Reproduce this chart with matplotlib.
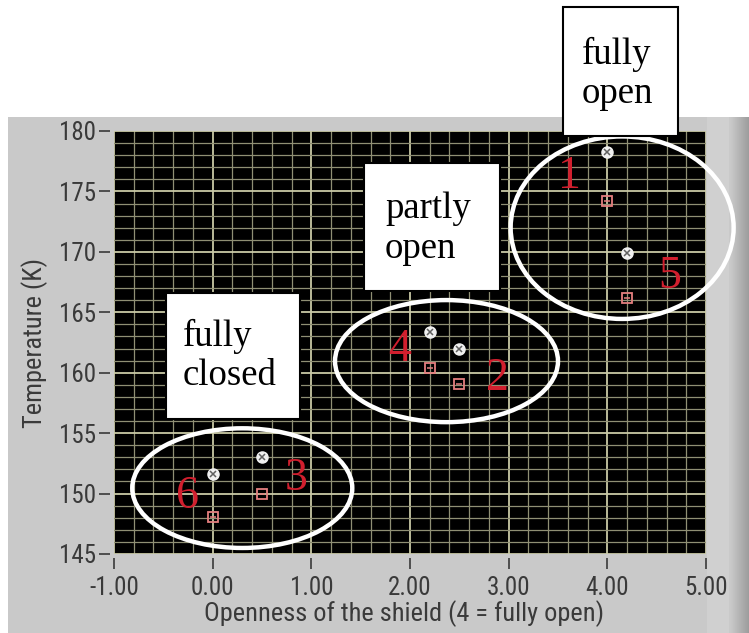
import numpy as np
import matplotlib
matplotlib.use("Agg")
import matplotlib.pyplot as plt
from matplotlib import font_manager
from matplotlib.patches import Ellipse, Rectangle
from matplotlib.ticker import MultipleLocator

# openness of the shield and the two temperature readings per run
openness = [4.0, 2.5, 0.5, 2.2, 4.2, 0.0]
temp_upper = [178.3, 162.0, 153.0, 163.4, 169.9, 151.6]
temp_lower = [174.2, 159.1, 150.0, 160.4, 166.2, 148.1]
run_ids = ["1", "2", "3", "4", "5", "6"]

x_ticks = [-1, 0, 1, 2, 3, 4, 5]
y_ticks = [145, 150, 155, 160, 165, 170, 175, 180]
group_names = ["fully\nclosed", "partly\nopen", "fully\nopen"]


def pick_font(names):
    have = {f.name for f in font_manager.fontManager.ttflist}
    for n in names:
        if n in have:
            return n
    return "DejaVu Sans"


ui_font = pick_font(["Liberation Sans Narrow", "Roboto Condensed", "Open Sans"])
serif_font = pick_font(["Liberation Serif", "DejaVu Serif"])
plt.rcParams["font.family"] = [ui_font, "DejaVu Sans"]

W, H = 749, 633
fig = plt.figure(figsize=(W / 100, H / 100), dpi=100)
fig.patch.set_facecolor("white")


def px(x, y):
    # pixel position (top-left origin) -> figure fraction
    return x / W, 1 - y / H


# grey panel behind the graph, with a soft shadow on the right
bg = fig.add_axes([0, 0, 1, 1], zorder=-5)
bg.set_xlim(0, W)
bg.set_ylim(H, 0)
bg.axis("off")
bg.add_patch(Rectangle((8, 117), 722, H - 117, color="#c9c9c9", lw=0))
bg.add_patch(Rectangle((707, 117), 22, H - 117, color="#d0d0d0", lw=0))
shade = np.linspace(0, 1, 40)[None, :]
bg.imshow(shade, extent=(729, 749, H, 117), aspect="auto",
          cmap=matplotlib.colors.LinearSegmentedColormap.from_list(
              "sh", ["#cdcdcd", "#9d9d9d"]), zorder=0)

ax = fig.add_axes([114 / W, 1 - 554 / H, (706 - 114) / W, (554 - 131) / H])
ax.set_facecolor("black")
ax.set_xlim(-1, 5)
ax.set_ylim(145, 180)

ax.xaxis.set_major_locator(MultipleLocator(1))
ax.xaxis.set_minor_locator(MultipleLocator(0.2))
ax.yaxis.set_major_locator(MultipleLocator(5))
ax.yaxis.set_minor_locator(MultipleLocator(1))
ax.grid(which="minor", color="#8f8f74", lw=0.9)
ax.grid(which="major", color="#c9c9a6", lw=1.3)
ax.set_axisbelow(True)

ax.set_xticks(x_ticks)
ax.set_xticklabels([f"{v:.2f}" for v in x_ticks])
ax.set_yticks(y_ticks)
ax.set_yticklabels([str(v) for v in y_ticks])
ax.tick_params(which="minor", length=0)
ax.tick_params(which="major", direction="out", color="#3a3a3a", width=1.2,
               length=8, labelcolor="#3a3a3a", labelsize=18, pad=2)
ax.tick_params(axis="x", which="major", pad=5)
for s in ax.spines.values():
    s.set_visible(False)
ax.spines["bottom"].set_position(("outward", 3))
ax.spines["left"].set_position(("outward", 3))

ax.set_xlabel("Openness of the shield (4 = fully open)", fontsize=19,
              color="#3a3a3a")
ax.set_ylabel("Temperature (K)", fontsize=19, color="#3a3a3a")
ax.xaxis.set_label_coords(0.49, -0.108)
ax.yaxis.set_label_coords(-0.112, 0.50)

# readings: white crossed circles and red open squares
ax.plot(openness, temp_upper, "o", ms=8, mfc="#f0f0f0", mec="#f0f0f0",
        zorder=4)
ax.plot(openness, temp_upper, "x", ms=4.5, mew=1.1, color="#606060", zorder=5)
ax.plot(openness, temp_lower, "s", ms=7, mfc="none", mec="#e57f7f", mew=1.3,
        zorder=4)
ax.plot(openness, temp_lower, "_", ms=4, mew=1.1, color="#e57f7f", zorder=5)

# run numbers written beside the points
run_pos = [(3.62, 176.2), (2.89, 159.5), (0.85, 151.2),
           (1.89, 161.9), (4.63, 167.9), (-0.26, 149.7)]
for rid, (x, y) in zip(run_ids, run_pos):
    ax.text(x, y, rid, color="#d11f2e", fontsize=33, family=serif_font,
            ha="center", va="center", zorder=6)

# rings round each group of runs
rings = [((0.30, 150.45), 2.23, 9.9),
         ((2.37, 160.96), 2.26, 10.1),
         ((4.15, 172.0), 2.26, 15.1)]
for (c, w, h) in rings:
    ax.add_patch(Ellipse(c, w, h, fill=False, ec="white", lw=3.2,
                         clip_on=False, zorder=7))

# captions in white boxes
boxes = [(166, 293, 300, 419, 183, 356),
         (364, 163, 500, 291, 385, 229),
         (563, 7, 678, 136, 582, 74)]
for name, (x0, y0, x1, y1, tx, ty) in zip(group_names, boxes):
    bx, by = px(x0, y1)
    fig.patches.append(Rectangle((bx, by), (x1 - x0) / W, (y1 - y0) / H,
                                 transform=fig.transFigure, fc="white",
                                 ec="black", lw=1.5, zorder=8))
    fx, fy = px(tx, ty)
    fig.text(fx, fy, name, fontsize=26.5, family=serif_font, color="black",
             ha="left", va="center", linespacing=1.2, zorder=9)

fig.savefig("out.png", dpi=100)
